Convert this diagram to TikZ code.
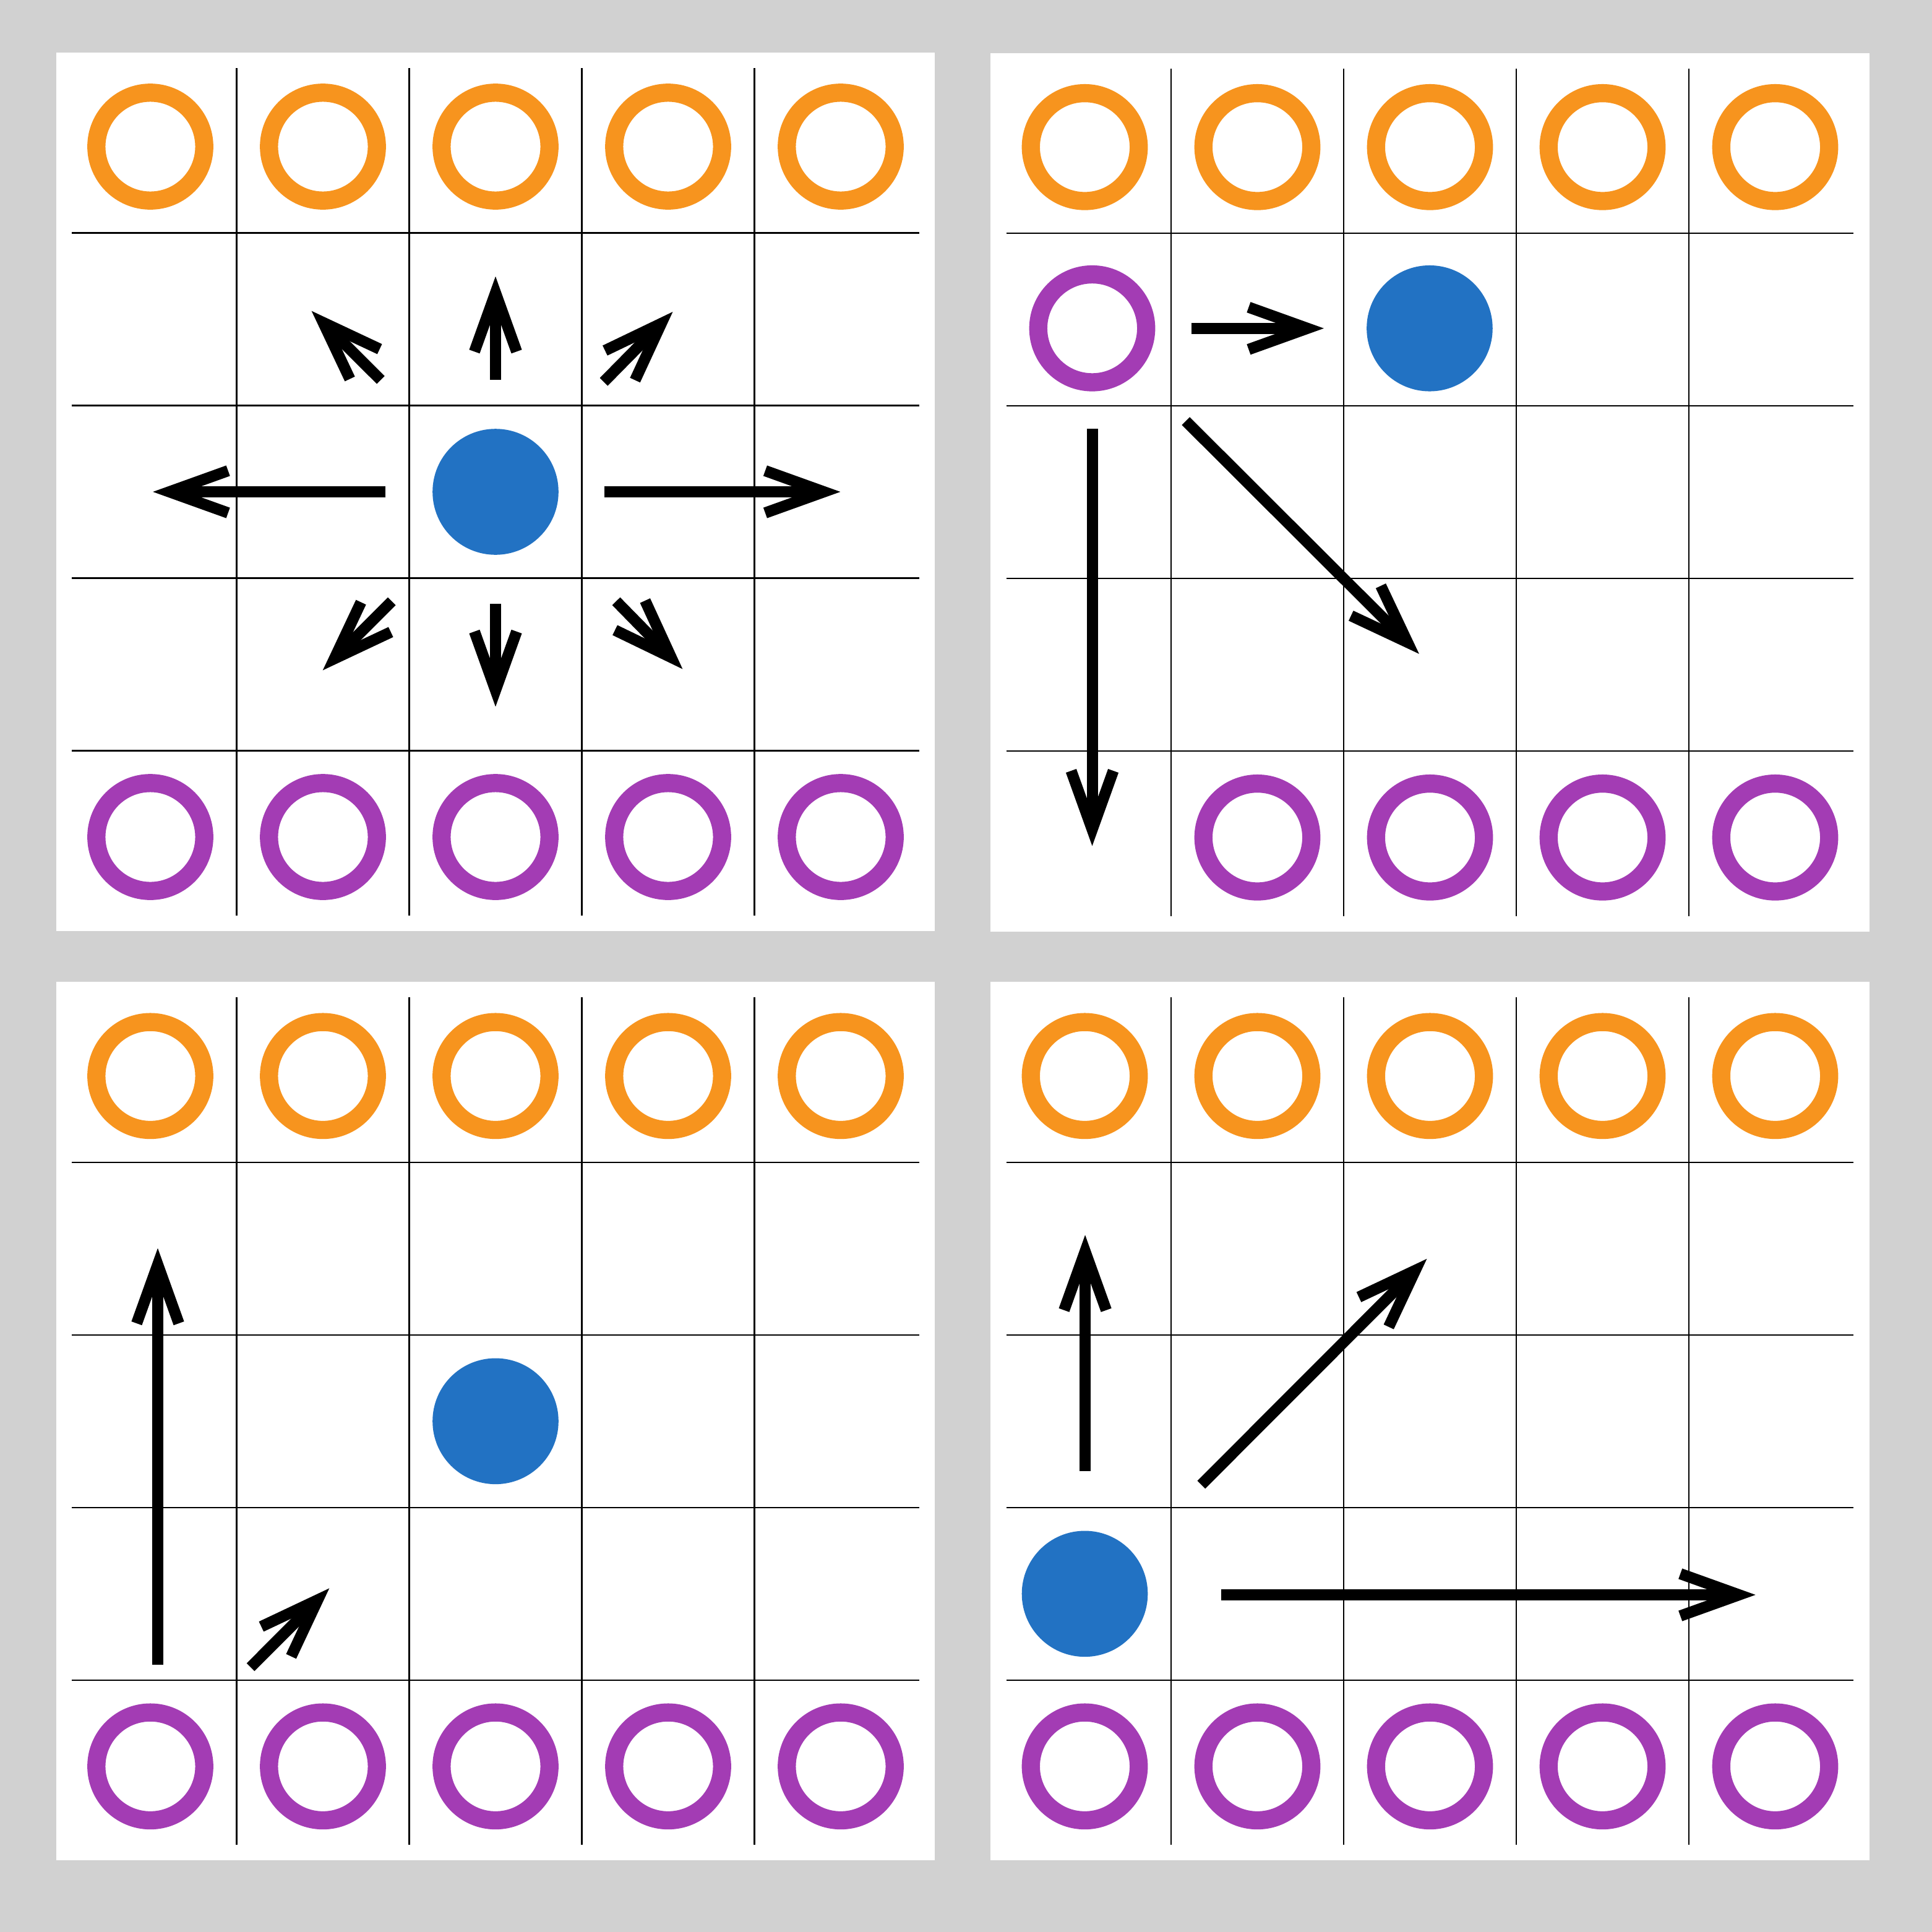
\documentclass[tikz,border=0pt]{standalone}
\usetikzlibrary{arrows.meta}
\definecolor{bg}{RGB}{209,209,209}
\definecolor{ora}{RGB}{247,148,30}
\definecolor{pur}{RGB}{163,60,180}
\definecolor{blu}{RGB}{34,114,195}
\newcommand{\boardbase}[1]{%
  \fill[white] (-0.045,-0.045) rectangle (5.045,5.045);
  \foreach \k in {1,2,3,4} {
    \draw[gridline] (\k,0.045) -- (\k,4.955);
    \draw[gridline] (0.045,\k) -- (4.955,\k);
  }
  \foreach \k in {0,...,4} \node[ring=ora] (#1top\k) at (\k+0.5,0.5) {};
}
\begin{document}
\begin{tikzpicture}[
  ring/.style={circle, draw=#1, line width=8.34pt, minimum size=1.744cm, inner sep=0pt, outer sep=0pt},
  dot/.style={circle, fill=blu, minimum size=2.036cm, inner sep=0pt, outer sep=0pt},
  gridline/.style={black, line width=0.62pt},
  mv/.style={black, line width=5.12pt, line join=miter, -{Straight Barb[length=27pt,width=19.4pt]}}
]
\fill[bg] (0,0) rectangle (31.23,-31.23);
\useasboundingbox (0,0) rectangle (31.23,-31.23);

% ---------- top left ----------
\begin{scope}[shift={(1.035cm,-0.975cm)}, x=2.79cm, y=-2.79cm]
  \boardbase{a}
  \foreach \k in {0,...,4} \node[ring=pur] (abot\k) at (\k+0.5,4.5) {};
  \node[dot] (adot) at (2.5,2.5) {};
  \coordinate (aN0) at (2.5,1.85);    \coordinate (aN1) at (2.5,1.252);
  \coordinate (aS0) at (2.5,3.148);   \coordinate (aS1) at (2.5,3.745);
  \coordinate (aW0) at (1.863,2.5);   \coordinate (aW1) at (0.515,2.5);
  \coordinate (aE0) at (3.13,2.5);    \coordinate (aE1) at (4.498,2.5);
  \coordinate (aNW0) at (1.835,1.852); \coordinate (aNW1) at (1.434,1.452);
  \coordinate (aNE0) at (3.127,1.863); \coordinate (aNE1) at (3.527,1.457);
  \coordinate (aSW0) at (1.899,3.134); \coordinate (aSW1) at (1.499,3.534);
  \coordinate (aSE0) at (3.199,3.134); \coordinate (aSE1) at (3.584,3.527);
  \foreach \d in {N,S,W,E,NW,NE,SW,SE} \draw[mv] (a\d0) -- (a\d1);
\end{scope}

% ---------- top right ----------
\begin{scope}[shift={(16.14cm,-0.983cm)}, x=2.79cm, y=-2.79cm]
  \boardbase{b}
  \foreach \k in {1,...,4} \node[ring=pur] (bbot\k) at (\k+0.5,4.5) {};
  \node[ring=pur] (bpiece) at (0.543,1.55) {};
  \node[dot] (bdot) at (2.498,1.55) {};
  \coordinate (bE0) at (1.118,1.55);   \coordinate (bE1) at (1.885,1.55);
  \coordinate (bS0) at (0.543,2.132);  \coordinate (bS1) at (0.543,4.549);
  \coordinate (bSE0) at (1.085,2.087); \coordinate (bSE1) at (2.437,3.436);
  \foreach \d in {E,S,SE} \draw[mv] (b\d0) -- (b\d1);
\end{scope}

% ---------- bottom left ----------
\begin{scope}[shift={(1.035cm,-15.998cm)}, x=2.79cm, y=-2.79cm]
  \boardbase{c}
  \foreach \k in {0,...,4} \node[ring=pur] (cbot\k) at (\k+0.5,4.5) {};
  \node[dot] (cdot) at (2.5,2.5) {};
  \coordinate (cN0) at (0.543,3.91);   \coordinate (cN1) at (0.543,1.4975);
  \coordinate (cNE0) at (1.081,3.925); \coordinate (cNE1) at (1.537,3.468);
  \foreach \d in {N,NE} \draw[mv] (c\d0) -- (c\d1);
\end{scope}

% ---------- bottom right ----------
\begin{scope}[shift={(16.14cm,-15.998cm)}, x=2.79cm, y=-2.79cm]
  \boardbase{d}
  \foreach \k in {0,...,4} \node[ring=pur] (dbot\k) at (\k+0.5,4.5) {};
  \node[dot] (ddot) at (0.5,3.5) {};
  \coordinate (dN0) at (0.502,2.788);  \coordinate (dN1) at (0.502,1.421);
  \coordinate (dNE0) at (1.175,2.868); \coordinate (dNE1) at (2.482,1.559);
  \coordinate (dE0) at (1.29,3.506);   \coordinate (dE1) at (4.386,3.506);
  \foreach \d in {N,NE,E} \draw[mv] (d\d0) -- (d\d1);
\end{scope}
\end{tikzpicture}
\end{document}
